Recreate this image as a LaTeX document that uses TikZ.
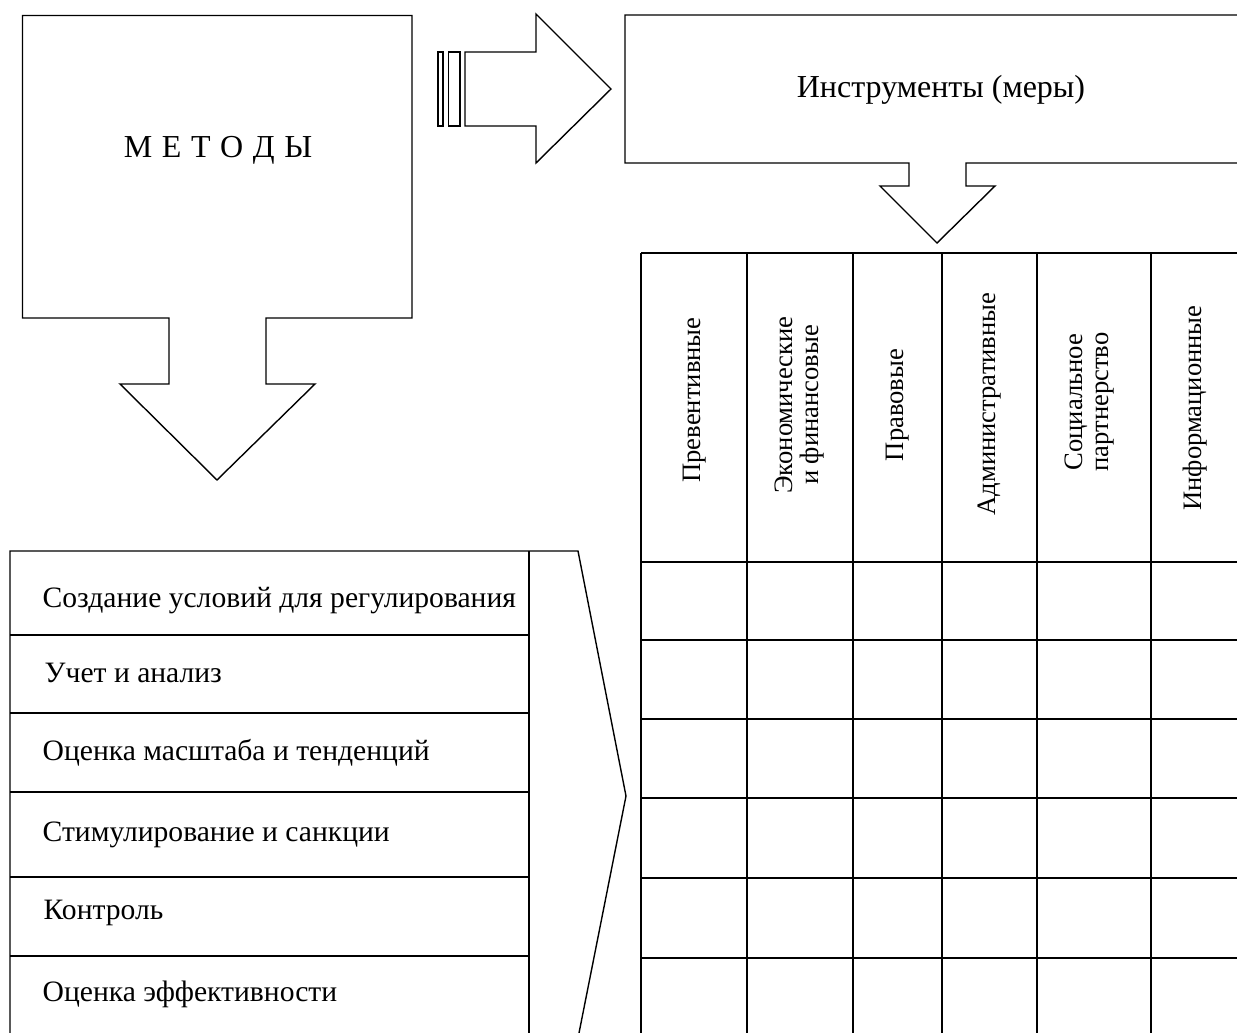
\documentclass[tikz,border=0pt]{standalone}
\usepackage{fontspec}
\setmainfont{Liberation Serif}
\begin{document}
\begin{tikzpicture}[x=0.5pt,y=-0.5pt,
  line width=0.7pt,
  shp/.style={draw=black, line join=miter},
  txt/.style={font=\fontsize{14.8}{14}\selectfont, inner sep=0pt},
  hdr/.style={font=\fontsize{13.3}{13}\selectfont, inner sep=0pt, rotate=90, align=center},
  ttl/.style={font=\fontsize{16}{17}\selectfont, inner sep=0pt}]
\useasboundingbox (0,0) rectangle (1237,1033);

% METHODS box with down arrow
\draw[shp] (22.5,15.5) -- (412,15.5) -- (412,318) -- (266,318) -- (266,384)
  -- (315,384) -- (217,480) -- (120,384) -- (169,384) -- (169,318) -- (22.5,318) -- cycle;
\node[ttl] (m) at (218,150) {М\hspace{0.3em}Е\hspace{0.3em}Т\hspace{0.3em}О\hspace{0.3em}Д\hspace{0.3em}Ы};

% right arrow with bars
\draw[shp] (438,52) rectangle (443,126);
\draw[shp] (448.5,52) rectangle (460,126);
\draw[shp] (465,52) -- (536,52) -- (536,14) -- (611,89) -- (536,163) -- (536,126) -- (465,126) -- cycle;

% Instruments box with down arrow
\draw[shp] (1237,15) -- (625,15) -- (625,163) -- (909,163) -- (909,186) -- (880,186)
  -- (937,243) -- (995,186) -- (966,186) -- (966,163) -- (1237,163);
\node[ttl] (ins) at (941,90) {Инструменты (меры)};

% table grid
\foreach \yy in {253,562,640,719,798,878,958}
  \draw (641,\yy) -- (1237,\yy);
\foreach \xx in {641,747,853,942,1037,1151}
  \draw (\xx,253) -- (\xx,1033);

\node[hdr] (h1) at (695,400) {Превентивные};
\node[hdr] (h2) at (800,405) {Экономические\\и финансовые};
\node[hdr] (h3) at (898,405) {Правовые};
\node[hdr] (h4) at (990,404) {Административные};
\node[hdr] (h5) at (1090,402) {Социальное\\партнерство};
\node[hdr] (h6) at (1195,408) {Информационные};

% list with chevron
\draw[shp] (10,1033) -- (10,551) -- (578,551) -- (626,796) -- (579,1033);
\draw (529,551) -- (529,1033);
\foreach \yy in {635,713,792,877,956}
  \draw (10,\yy) -- (529,\yy);

\node[txt, anchor=west] (l1) at (42,601) {Создание условий для регулирования};
\node[txt, anchor=west] (l2) at (44,673) {Учет и анализ};
\node[txt, anchor=west] (l3) at (42,753) {Оценка масштаба и тенденций};
\node[txt, anchor=west] (l4) at (42,835) {Стимулирование и санкции};
\node[txt, anchor=west] (l5) at (43,913) {Контроль};
\node[txt, anchor=west] (l6) at (42,994) {Оценка эффективности};
\end{tikzpicture}
\end{document}
